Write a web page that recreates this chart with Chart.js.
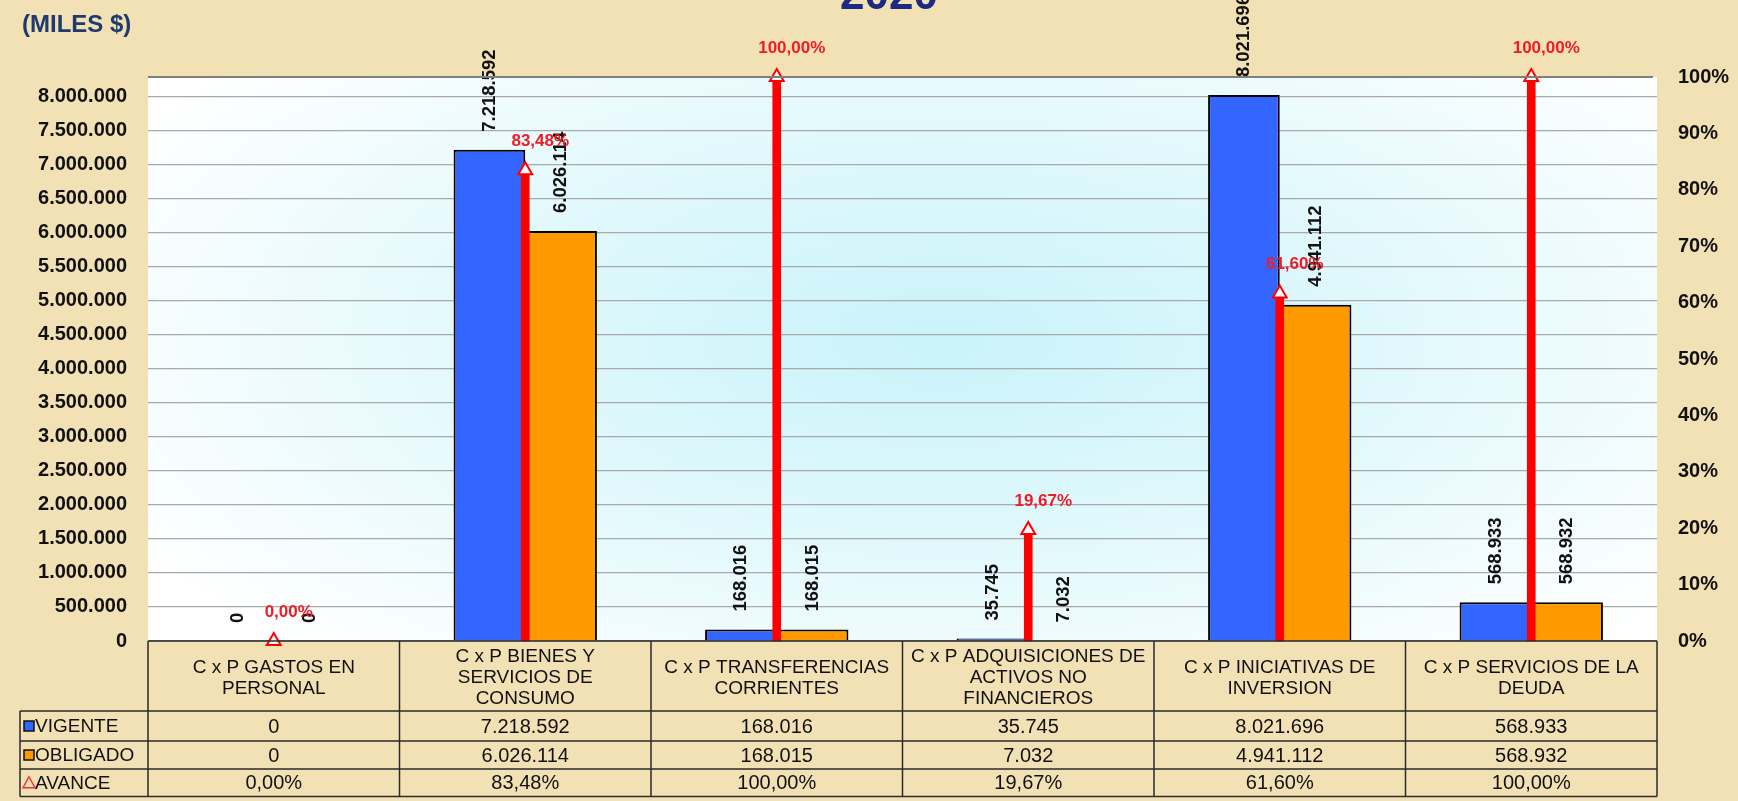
<!DOCTYPE html>
<html>
<head>
<meta charset="utf-8">
<script src="https://cdn.jsdelivr.net/npm/chart.js@4.4.1/dist/chart.umd.min.js"></script>
<style>
  html, body { margin:0; padding:0; background:#F3E1B6; overflow:hidden; }
  #wrap { position:relative; width:1738px; height:801px; }
</style>
</head>
<body>
<div id="wrap"><canvas id="myChart"></canvas></div>
<script>
var categorias = [
    ['C x P GASTOS EN', 'PERSONAL'],
    ['C x P BIENES Y', 'SERVICIOS DE', 'CONSUMO'],
    ['C x P TRANSFERENCIAS', 'CORRIENTES'],
    ['C x P ADQUISICIONES DE', 'ACTIVOS NO', 'FINANCIEROS'],
    ['C x P INICIATIVAS DE', 'INVERSION'],
    ['C x P SERVICIOS DE LA', 'DEUDA']
];
var vigente = [0, 7218592, 168016, 35745, 8021696, 568933];
var obligado = [0, 6026114, 168015, 7032, 4941112, 568932];
var avance = [0, 83.48, 100, 19.67, 61.60, 100];
var ticksIzq = [0, 500000, 1000000, 1500000, 2000000, 2500000, 3000000, 3500000, 4000000,
    4500000, 5000000, 5500000, 6000000, 6500000, 7000000, 7500000, 8000000];
var ticksDer = [0, 10, 20, 30, 40, 50, 60, 70, 80, 90, 100];

var fuente = "'Liberation Sans', Arial, sans-serif";

function miles(v){
    return String(v).replace(/\B(?=(\d{3})+(?!\d))/g, '.');
}
function pct(v){
    return v.toFixed(2).replace('.', ',') + '%';
}

// fondo degradado del area del grafico
const fondo = {
    id: 'fondo',
    beforeDraw(chart){
        const ctx = chart.ctx, a = chart.chartArea;
        const cx = (a.left + a.right) / 2 + 40, cy = (a.top + a.bottom) / 2 - 20;
        const rx = (a.right - a.left) * 0.62, ry = (a.bottom - a.top) * 0.75;
        ctx.save();
        ctx.fillStyle = '#ffffff';
        ctx.fillRect(a.left, a.top, a.right - a.left, a.bottom - a.top);
        ctx.beginPath();
        ctx.rect(a.left, a.top, a.right - a.left, a.bottom - a.top);
        ctx.clip();
        ctx.translate(cx, cy);
        ctx.scale(1, ry / rx);
        const g = ctx.createRadialGradient(0, 0, 0, 0, 0, rx);
        g.addColorStop(0, '#c9f3fa');
        g.addColorStop(0.45, '#dff8fc');
        g.addColorStop(1, '#ffffff');
        ctx.fillStyle = g;
        ctx.fillRect(-rx, -rx, rx * 2, rx * 2);
        ctx.restore();
    }
};

// etiquetas de valores
const etiquetas = {
    id: 'etiquetas',
    afterDatasetsDraw(chart){
        const ctx = chart.ctx;
        ctx.save();
        [0, 1].forEach(function(d){
            const meta = chart.getDatasetMeta(d);
            const datos = chart.data.datasets[d].data;
            meta.data.forEach(function(el, i){
                ctx.save();
                ctx.translate(el.x, el.y - 18);
                ctx.rotate(-Math.PI / 2);
                ctx.font = 'bold 18.5px ' + fuente;
                ctx.fillStyle = '#111';
                ctx.textAlign = 'left';
                ctx.textBaseline = 'middle';
                ctx.fillText(miles(datos[i]), 0, 0);
                ctx.restore();
            });
        });
        const metaM = chart.getDatasetMeta(3);
        metaM.data.forEach(function(el, i){
            ctx.font = 'bold 17px ' + fuente;
            ctx.fillStyle = '#ee1c25';
            ctx.textAlign = 'center';
            ctx.textBaseline = 'middle';
            ctx.fillText(pct(avance[i]), el.x + 15, el.y - 29);
        });
        ctx.restore();
    }
};

// tabla de datos, titulos
const tabla = {
    id: 'tabla',
    afterDraw(chart){
        const ctx = chart.ctx, a = chart.chartArea, x = chart.scales.x;
        const colW = x.getPixelForValue(1) - x.getPixelForValue(0);
        const y0 = a.bottom, y1 = y0 + 70, y2 = y1 + 30, y3 = y2 + 28, y4 = 796.5;
        const xl = 20;
        ctx.save();

        // linea superior
        ctx.strokeStyle = '#7f7f7f';
        ctx.lineWidth = 2;
        ctx.beginPath();
        ctx.moveTo(a.left, a.top); ctx.lineTo(a.right - 4, a.top);
        ctx.stroke();

        ctx.strokeStyle = '#2a2a2a';
        ctx.lineWidth = 1.5;
        ctx.beginPath();
        ctx.moveTo(a.left, y0); ctx.lineTo(a.right, y0);
        [y1, y2, y3, y4].forEach(function(y){ ctx.moveTo(xl, y); ctx.lineTo(a.right, y); });
        ctx.moveTo(xl, y1); ctx.lineTo(xl, y4);
        for (var i = 0; i <= categorias.length; i++){
            var xx = a.left + colW * i;
            if (i === categorias.length) xx = a.right;
            ctx.moveTo(xx, y0); ctx.lineTo(xx, y4);
        }
        ctx.stroke();

        ctx.fillStyle = '#111';
        ctx.textAlign = 'center';
        ctx.textBaseline = 'middle';
        categorias.forEach(function(lineas, i){
            var cx = x.getPixelForValue(i);
            var cy = (y0 + y1) / 2 + 2;
            ctx.font = '19px ' + fuente;
            lineas.forEach(function(t, j){
                ctx.fillText(t, cx, cy + (j - (lineas.length - 1) / 2) * 21);
            });
            ctx.font = '20px ' + fuente;
            ctx.fillText(miles(vigente[i]), cx, (y1 + y2) / 2 + 1);
            ctx.fillText(miles(obligado[i]), cx, (y2 + y3) / 2 + 1);
            ctx.fillText(pct(avance[i]), cx, (y3 + y4) / 2 + 1);
        });

        // leyenda
        ctx.textAlign = 'left';
        ctx.font = '19px ' + fuente;
        var filas = [[(y1 + y2) / 2, 'VIGENTE', '#3366ff'], [(y2 + y3) / 2, 'OBLIGADO', '#ff9900']];
        filas.forEach(function(f){
            ctx.fillStyle = f[2];
            ctx.fillRect(24, f[0] - 5, 10, 10);
            ctx.strokeStyle = '#111';
            ctx.lineWidth = 1.5;
            ctx.strokeRect(24, f[0] - 5, 10, 10);
            ctx.fillStyle = '#111';
            ctx.fillText(f[1], 35, f[0] + 1);
        });
        var ya = (y3 + y4) / 2;
        ctx.strokeStyle = '#ee3340';
        ctx.lineWidth = 1.5;
        ctx.beginPath();
        ctx.moveTo(29, ya - 6); ctx.lineTo(35, ya + 5); ctx.lineTo(23, ya + 5); ctx.closePath();
        ctx.stroke();
        ctx.fillStyle = '#111';
        ctx.fillText('AVANCE', 35, ya + 1);

        // titulos
        ctx.textAlign = 'center';
        ctx.textBaseline = 'alphabetic';
        ctx.fillStyle = '#1d2a82';
        ctx.font = 'bold 44px ' + fuente;
        ctx.fillText('2020', 889, 9);
        ctx.textAlign = 'left';
        ctx.fillStyle = '#1f3a6e';
        ctx.font = 'bold 24px ' + fuente;
        ctx.fillText('(MILES $)', 22, 32);
        ctx.restore();
    }
};

const ctx = document.getElementById('myChart').getContext('2d');
const myChart = new Chart(ctx, {
    type: 'bar',
    data: {
        labels: categorias,
        datasets: [{
            label: 'VIGENTE',
            data: vigente,
            backgroundColor: '#3366ff',
            borderColor: '#000000',
            borderWidth: 2,
            yAxisID: 'y',
            order: 3
        }, {
            label: 'OBLIGADO',
            data: obligado,
            backgroundColor: '#ff9900',
            borderColor: '#000000',
            borderWidth: 2,
            yAxisID: 'y',
            order: 3
        }, {
            label: 'AVANCE',
            data: avance,
            backgroundColor: '#ff0000',
            borderWidth: 0,
            barThickness: 8,
            grouped: false,
            yAxisID: 'y1',
            clip: false,
            order: 2
        }, {
            type: 'line',
            label: 'AVANCE marca',
            data: avance,
            showLine: false,
            pointStyle: 'triangle',
            pointRadius: 8,
            pointBorderWidth: 2,
            pointBorderColor: '#ff0000',
            pointBackgroundColor: '#ffffff',
            yAxisID: 'y1',
            clip: false,
            order: 1
        }]
    },
    options: {
        responsive: true,
        maintainAspectRatio: false,
        animation: false,
        events: [],
        categoryPercentage: 0.57,
        barPercentage: 1,
        layout: { padding: { left: 0, right: 0, top: 77, bottom: 160 } },
        plugins: {
            legend: { display: false },
            tooltip: { enabled: false }
        },
        scales: {
            x: { display: false },
            y: {
                position: 'left',
                min: 0,
                max: 8288000,
                afterBuildTicks: function(s){ s.ticks = ticksIzq.map(function(v){ return { value: v }; }); },
                afterFit: function(s){ s.width = 148; },
                border: { display: false },
                grid: { color: '#a9a9a9', lineWidth: 1.2, drawTicks: false },
                ticks: {
                    padding: 21,
                    color: '#111',
                    font: { family: fuente, size: 20, weight: 'bold' },
                    callback: function(v){ return miles(v); }
                }
            },
            y1: {
                position: 'right',
                min: 0,
                max: 100,
                afterBuildTicks: function(s){ s.ticks = ticksDer.map(function(v){ return { value: v }; }); },
                afterFit: function(s){ s.width = 81; },
                border: { display: false },
                grid: { display: false, drawTicks: false },
                ticks: {
                    padding: 21,
                    color: '#111',
                    font: { family: fuente, size: 20, weight: 'bold' },
                    callback: function(v){ return v + '%'; }
                }
            }
        }
    },
    plugins: [fondo, etiquetas, tabla]
});
</script>
</body>
</html>
